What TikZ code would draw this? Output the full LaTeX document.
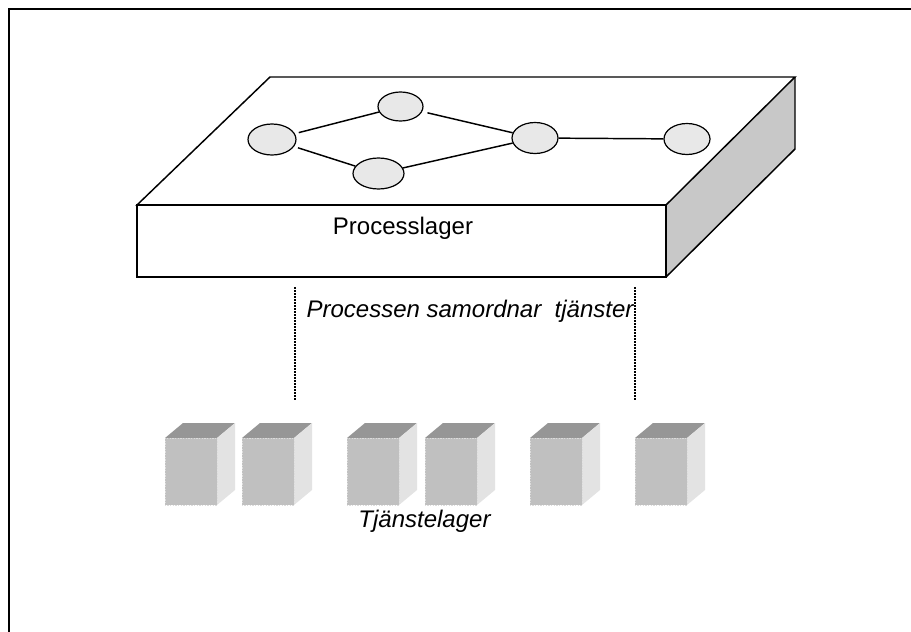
\documentclass[tikz,border=0pt]{standalone}
\usepackage{fontspec}
\setmainfont{Liberation Sans}
\usetikzlibrary{shapes.geometric}
\begin{document}
\begin{tikzpicture}[x=0.75pt,y=-0.75pt,
  frameline/.style={line width=1.5pt},
  slabline/.style={line width=1.1pt, line join=miter},
  procnode/.style={ellipse, draw, line width=0.9pt, fill=nodegray,
    minimum width=#1, minimum height=23.25pt, inner sep=0pt},
  procnode/.default=34.5pt,
  edge/.style={line width=1.1pt},
  guide/.style={line width=0.9pt, dash pattern=on 1.5pt off 0.75pt},
  label/.style={font=\fontsize{18}{20}\selectfont, inner sep=0pt},
  cubefront/.style={fill=cubemid, draw=cubeedge, line width=0.6pt, dash pattern=on 1pt off 1pt},
  cubetop/.style={fill=cubedark},
  cubeside/.style={fill=cubelight}
]
\definecolor{nodegray}{RGB}{232,232,232}
\definecolor{sidegray}{RGB}{200,200,200}
\definecolor{cubemid}{RGB}{192,192,192}
\definecolor{cubedark}{RGB}{150,150,150}
\definecolor{cubelight}{RGB}{227,227,227}
\definecolor{cubeedge}{RGB}{220,220,220}

\useasboundingbox (0,0) rectangle (911,632);

% outer frame (only top and left edges fall on the page)
\draw[frameline] (8.5,640) -- (8.5,8.5) -- (920,8.5);

% process layer slab
\coordinate (btl) at (270,77);
\coordinate (btr) at (795,77);
\coordinate (bbr) at (795,149);
\coordinate (ftl) at (137,205);
\coordinate (ftr) at (666,205);
\coordinate (fbr) at (666,277);
\coordinate (fbl) at (137,277);
\fill[white] (ftl) -- (btl) -- (btr) -- (ftr) -- cycle;
\fill[sidegray] (ftr) -- (btr) -- (bbr) -- (fbr) -- cycle;
\draw[slabline] (ftl) -- (btl) -- (btr) -- (ftr) -- cycle;
\draw[slabline] (ftl) rectangle (fbr);
\draw[slabline] (btr) -- (bbr) -- (fbr);

\node[label] (slabtext) at (403,228) {Processlager};

% process graph on top of the slab
\node[procnode=36pt] (p1) at (272,139.5) {};
\node[procnode=33.75pt, minimum height=21.75pt] (p2) at (400.5,106.5) {};
\node[procnode=38.25pt] (p3) at (378.5,173.5) {};
\node[procnode] (p4) at (535,138) {};
\node[procnode] (p5) at (687,139) {};
\draw[edge, shorten <=3pt] (p1) -- (p2);
\draw[edge, shorten <=3pt] (p1) -- (p3);
\draw[edge, shorten <=4pt] (p2) -- (p4);
\draw[edge] (p3) -- (p4);
\draw[edge] (p4) -- (p5);

% dotted guides from the slab down to the services
\coordinate (gl1) at (295,287);
\coordinate (gl2) at (295,400);
\coordinate (gr1) at (635,287);
\coordinate (gr2) at (635,400);
\draw[guide] (gl1) -- (gl2);
\draw[guide] (gr1) -- (gr2);
\node[label, font=\fontsize{18}{20}\selectfont\itshape] (coord) at (470,311) {Processen samordnar\ \ tjänster};

% service layer: a row of small cubes
\foreach \cx in {165,242,347,425,530,635} {
  \fill[cubetop] (\cx,438) -- (\cx+18,423) -- (\cx+70,423) -- (\cx+52,438) -- cycle;
  \fill[cubeside] (\cx+52,438) -- (\cx+70,423) -- (\cx+70,490) -- (\cx+52,505) -- cycle;
  \draw[cubefront] (\cx,438) rectangle (\cx+52,505);
}
\node[label, font=\fontsize{18}{20}\selectfont\itshape] (svc) at (424.5,521) {Tjänstelager};
\end{tikzpicture}
\end{document}
